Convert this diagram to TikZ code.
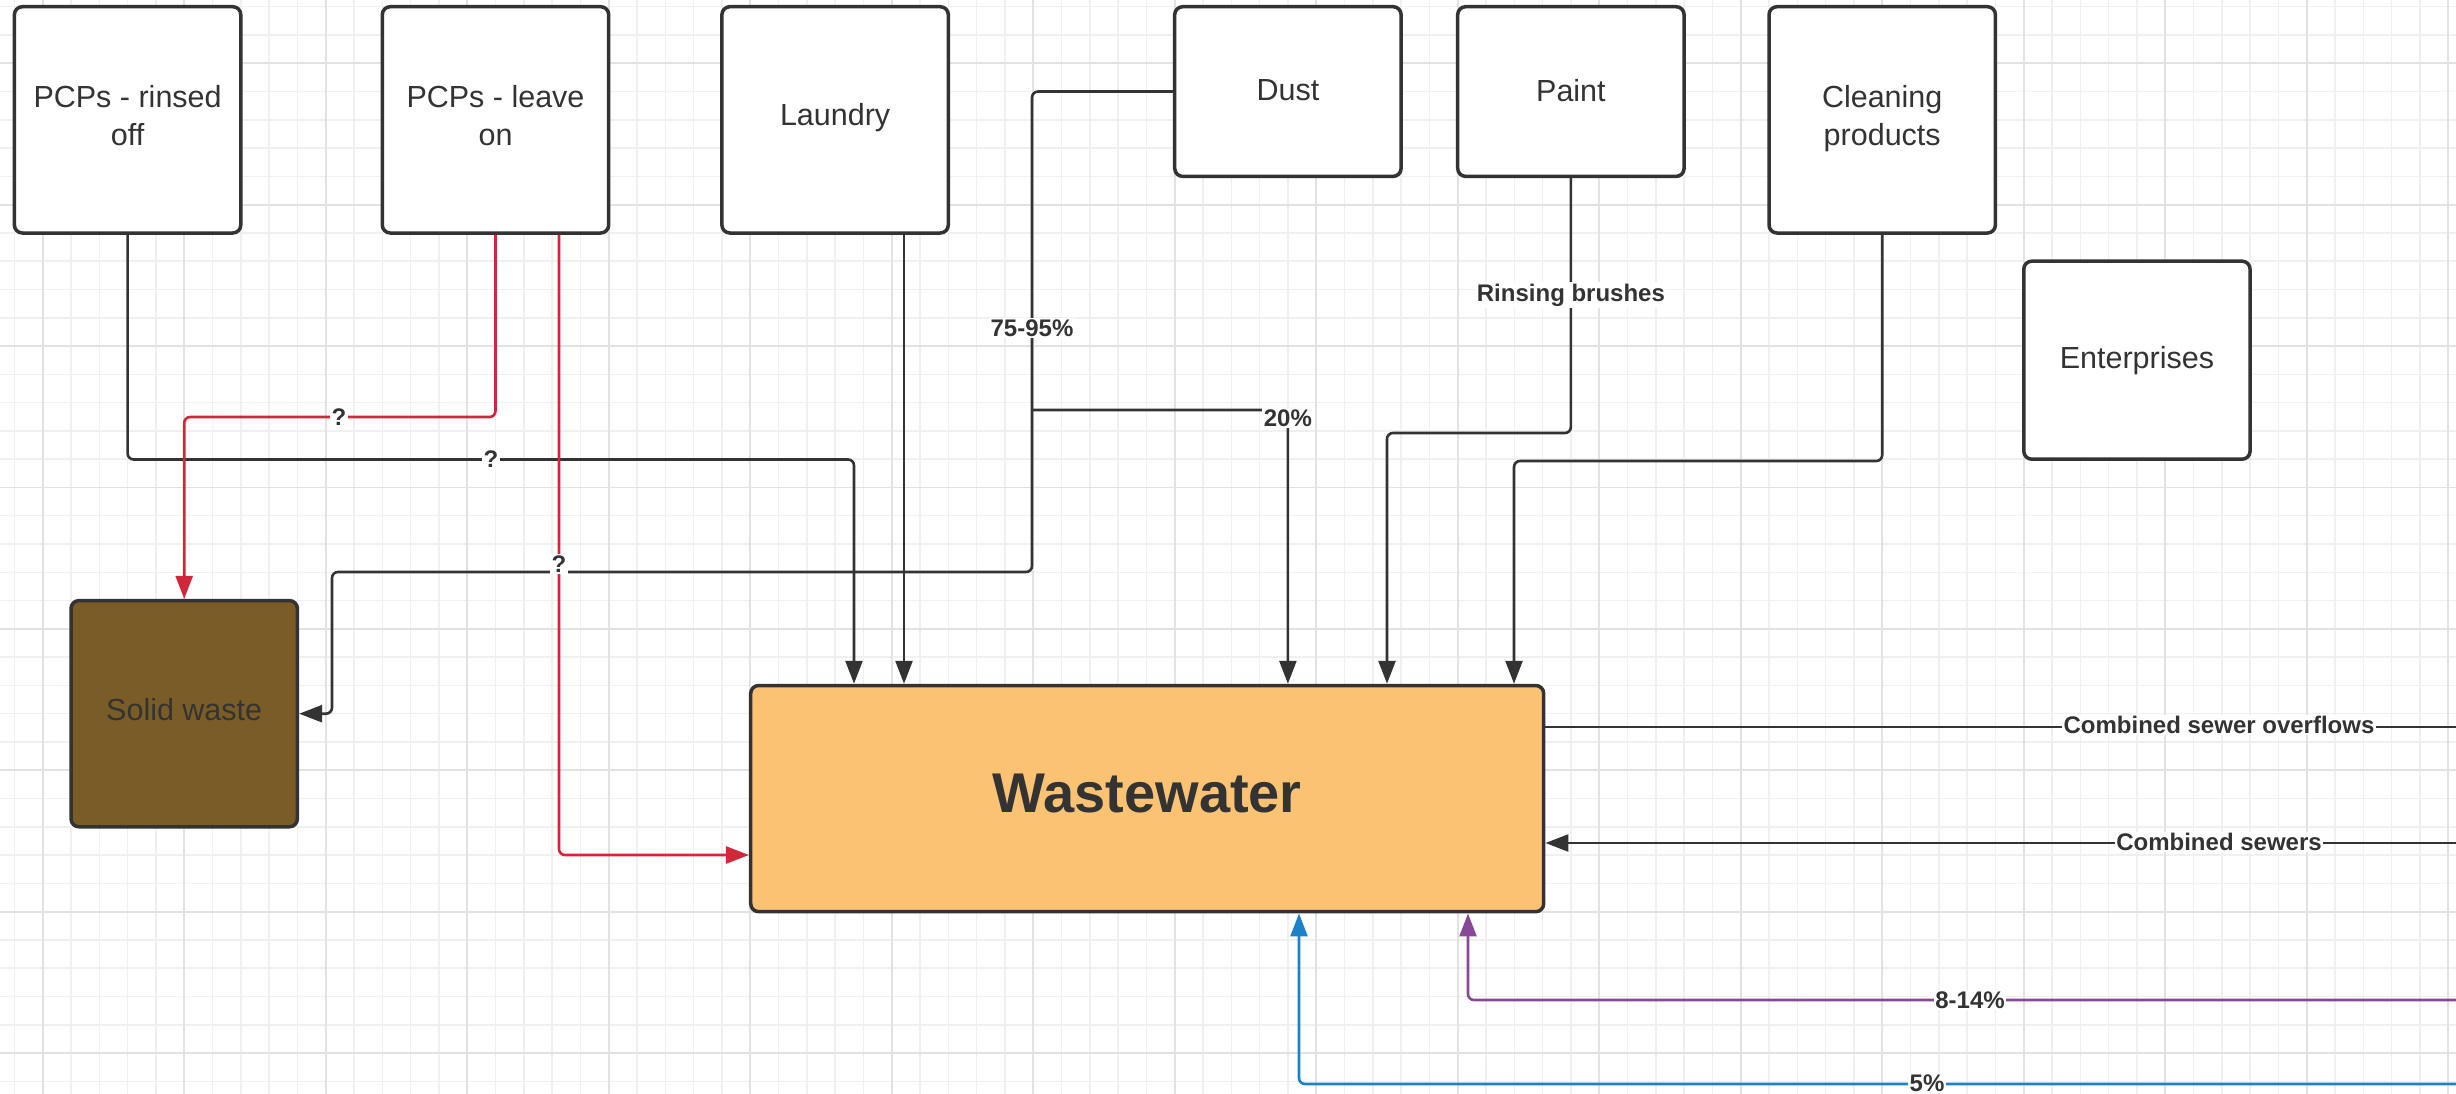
\documentclass[tikz,border=0pt]{standalone}
\usepackage{fontspec}
\setmainfont{Liberation Sans}
\usetikzlibrary{arrows.meta}
\definecolor{ln}{HTML}{333333}
\definecolor{txt}{HTML}{333333}
\definecolor{redc}{HTML}{D0283A}
\definecolor{purc}{HTML}{874895}
\definecolor{bluc}{HTML}{1B82C5}
\definecolor{wwfill}{HTML}{FCC273}
\definecolor{swfill}{HTML}{7A5D26}
\definecolor{gminor}{HTML}{F0F0F0}
\definecolor{gmajor}{HTML}{E2E2E2}
\tikzset{
  box/.style={draw=ln, line width=3.5pt, rounded corners=8pt, fill=white, text=txt,
    align=center, font=\fontsize{30.5}{38}\selectfont, inner sep=0pt},
  conn/.style={draw=ln, line width=2.6pt, rounded corners=6pt},
  redl/.style={conn, draw=redc},
  purl/.style={conn, draw=purc},
  blul/.style={conn, draw=bluc},
  arr/.style={-{Triangle[length=23pt,width=17pt]}},
  lbl/.style={fill=white, inner sep=1.5pt, text=txt, font=\bfseries\fontsize{24}{28}\selectfont},
}
\begin{document}
\begin{tikzpicture}[x=1pt,y=-1pt]
\useasboundingbox (0,0) rectangle (2456,1094);
\fill[white] (0,0) rectangle (2456,1094);
% grid
\foreach \i [evaluate=\i as \xx using 14.4+28.3*\i] in {0,...,86}
  \draw[gminor, line width=1.5pt] (\xx,0) -- (\xx,1094);
\foreach \i [evaluate=\i as \yy using 6.7+28.28*\i] in {0,...,38}
  \draw[gminor, line width=1.5pt] (0,\yy) -- (2456,\yy);
\foreach \i [evaluate=\i as \xx using 42.7+141.5*\i] in {0,...,17}
  \draw[gmajor, line width=1.7pt] (\xx,0) -- (\xx,1094);
\foreach \i [evaluate=\i as \yy using 63.3+141.4*\i] in {0,...,7}
  \draw[gmajor, line width=1.7pt] (0,\yy) -- (2456,\yy);

% boxes
\node[box, minimum width=226.4pt, minimum height=226.3pt, text depth=8pt] (rinsed) at (127.6,119.85) {PCPs - rinsed\\off};
\node[box, minimum width=226.4pt, minimum height=226.3pt, text depth=8pt] (leave) at (495.5,119.85) {PCPs - leave\\on};
\node[box, minimum width=226.4pt, minimum height=226.3pt, text depth=11pt] (laundry) at (835.1,119.85) {Laundry};
\node[box, minimum width=226.4pt, minimum height=169.7pt, text depth=3pt] (dust) at (1287.9,91.55) {Dust};
\node[box, minimum width=226.4pt, minimum height=169.7pt, text depth=3pt] (paint) at (1570.9,91.55) {Paint};
\node[box, minimum width=226.4pt, minimum height=226.3pt, text depth=9pt] (clean) at (1882.2,119.85) {Cleaning\\products};
\node[box, minimum width=226.3pt, minimum height=198pt] (ent) at (2136.9,360.2) {Enterprises};
\node[box, fill=swfill, minimum width=226.4pt, minimum height=226.2pt, text depth=8pt] (sw) at (184.2,713.7) {Solid waste};
\node[box, fill=wwfill, minimum width=793pt, minimum height=226.2pt, text depth=10pt, font=\bfseries\fontsize{56}{64}\selectfont] (ww) at (1147.2,798.6) {Wastewater};

% free ends
\coordinate (br) at (1032,410);
\coordinate (e1) at (2456,727);
\coordinate (e2) at (2456,843);
\coordinate (e3) at (2456,1000);
\coordinate (e4) at (2456,1084);

% connectors
\draw[conn,arr] (rinsed.south) |- (854,459.5) -- (854,0 |- ww.north);
\draw[redl,arr] (leave.south) |- (184.2,417) -- (sw.north);
\draw[redl,arr] (559,0 |- leave.south) |- (ww.west |- 0,855);
\draw[conn,arr] (904,0 |- laundry.south) -- (904,0 |- ww.north);
\draw[conn,arr] (dust.west) -| (1032,572) -| (332,0 |- sw.east) -- (sw.east);
\draw[conn,arr] (br) -| (1287.9,0 |- ww.north);
\draw[conn,arr] (paint.south) |- (1387,433) -- (1387,0 |- ww.north);
\draw[conn,arr] (clean.south) |- (1514,461) -- (1514,0 |- ww.north);
\draw[conn] (ww.east |- e1) -- (e1);
\draw[conn,arr] (e2) -- (ww.east |- e2);
\draw[purl,arr] (e3) -| (1468,0 |- ww.south);
\draw[blul,arr] (e4) -| (1299,0 |- ww.south);

% labels
\node[lbl] (q1) at (491,459.5) {?};
\node[lbl] (q2) at (339,417) {?};
\node[lbl] (q3) at (559,564) {?};
\node[lbl] (p1) at (1032,328) {75-95\%};
\node[lbl] (p2) at (1287.9,418) {20\%};
\node[lbl] (rb) at (1570.9,295) {Rinsing brushes};
\node[lbl] (cso) at (2219,725) {Combined sewer overflows};
\node[lbl] (cs) at (2219,842) {Combined sewers};
\node[lbl] (p3) at (1970,1000) {8-14\%};
\node[lbl] (p4) at (1927,1083) {5\%};
\end{tikzpicture}
\end{document}
